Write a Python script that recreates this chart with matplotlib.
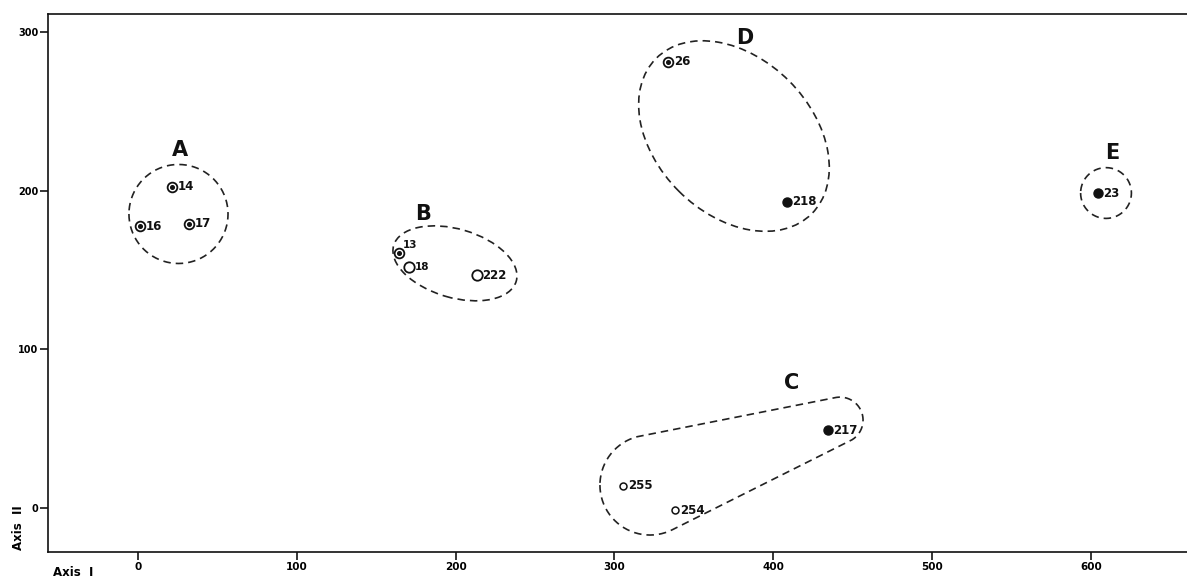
import numpy as np
import matplotlib
matplotlib.use('Agg')
import matplotlib.pyplot as plt
from matplotlib.patches import Ellipse

plt.rcParams['font.family'] = ['DejaVu Sans']

# ordination scores (Axis I, Axis II)
site_ids = ['14', '16', '17', '13', '18', '222', '217', '255', '254', '26', '218', '23']
axis1 = [21.4, 1.3, 32.1, 164.4, 170.7, 213.5, 434.5, 305.4, 338.2, 334.0, 408.5, 604.3]
axis2 = [202.3, 177.7, 179.0, 160.7, 151.9, 146.8, 49.1, 13.9, -1.3, 281.2, 193.0, 198.3]
site_kind = ['ring', 'ring', 'ring', 'ring', 'open', 'open', 'filled', 'small', 'small', 'ring', 'filled', 'filled']

groups = ['A', 'B', 'C', 'D', 'E']
xticks = [0, 100, 200, 300, 400, 500, 600]
yticks = [0, 100, 200, 300]

fig = plt.figure(figsize=(11.87, 5.79), dpi=100)
ax = fig.add_axes([0.0404, 0.0466, 0.9596, 0.9292])
ax.set_xlim(-56.7, 660.6)
ax.set_ylim(-27.7, 311.3)

ink = '#111111'
dash = (0, (4.5, 3))

styles = {
    'ring':   dict(marker='o', ms=7, mfc='white', mec=ink, mew=1.3),
    'open':   dict(marker='o', ms=7.5, mfc='white', mec=ink, mew=1.3),
    'small':  dict(marker='o', ms=5, mfc='white', mec=ink, mew=1.1),
    'filled': dict(marker='o', ms=6.5, mfc=ink, mec=ink, mew=1),
}

x = np.array(axis1)
y = np.array(axis2)
kinds = np.array(site_kind)
for k, st in styles.items():
    m = kinds == k
    ax.plot(x[m], y[m], ls='none', zorder=3, **st)
    if k == 'ring':
        ax.plot(x[m], y[m], 'o', ms=2.6, color=ink, zorder=4)

for sid, xi, yi in zip(site_ids, axis1, axis2):
    off = (3, 6) if sid == '13' else (4, 0)
    fs = 7.5 if sid in ('13', '18') else 8.5
    ax.annotate(sid, (xi, yi), xytext=off, textcoords='offset points',
                ha='left', va='center', fontsize=fs, fontweight='bold', color=ink)


def circle_hull(circles, n=240):
    t = np.linspace(0, 2 * np.pi, n, endpoint=False)
    pts = np.vstack([np.c_[cx + r * np.cos(t), cy + r * np.sin(t)] for cx, cy, r in circles])
    pts = pts[np.lexsort((pts[:, 1], pts[:, 0]))]

    def half(p):
        h = []
        for q in p:
            while len(h) >= 2:
                a = h[-1] - h[-2]
                b = q - h[-2]
                if a[0] * b[1] - a[1] * b[0] <= 0:
                    h.pop()
                else:
                    break
            h.append(q)
        return h
    lo = half(pts)
    up = half(pts[::-1])
    return np.array(lo[:-1] + up[:-1] + [lo[0]])


# dashed group outlines
for circles in ([(25.5, 185.3, 31.2)],
                [(322.4, 14.5, 31.5), (442.1, 55.4, 14.5)],
                [(609.6, 198.5, 16.0)]):
    h = circle_hull(circles)
    ax.plot(h[:, 0], h[:, 1], ls=dash, lw=1.2, color='#222222')

for c, w, hgt, ang in [((199.6, 154.2), 80.4, 43.2, -16.3),
                       ((375.3, 234.4), 138.5, 98.2, -45)]:
    ax.add_patch(Ellipse(c, w, hgt, angle=ang, fill=False, ls=dash, lw=1.2, ec='#222222'))

group_pos = [(26.4, 225.6), (179.5, 185.3), (411.8, 78.8), (382.2, 296.2), (613.4, 223.7)]
for g, (gx, gy) in zip(groups, group_pos):
    ax.text(gx, gy, g, ha='center', va='center', fontsize=15, fontweight='bold', color=ink)

ax.set_xticks(xticks)
ax.set_yticks(yticks)
ax.tick_params(axis='x', direction='out', length=6, width=1.1, pad=1, labelsize=7.5)
ax.tick_params(axis='y', direction='out', length=6, width=1.1, pad=1, labelsize=7)
for lab in ax.get_xticklabels() + ax.get_yticklabels():
    lab.set_fontweight('bold')
ax.spines['right'].set_visible(False)
for s in ('left', 'bottom', 'top'):
    ax.spines[s].set_linewidth(1.2)
    ax.spines[s].set_color(ink)

fig.text(53 / 1187, 1 - 573 / 579, 'Axis  I', ha='left', va='center', fontsize=8.5, fontweight='bold')
fig.text(18 / 1187, 1 - 528 / 579, 'Axis  II', ha='center', va='center', rotation=90, fontsize=8.5, fontweight='bold')

fig.savefig('out.png', dpi=100)
